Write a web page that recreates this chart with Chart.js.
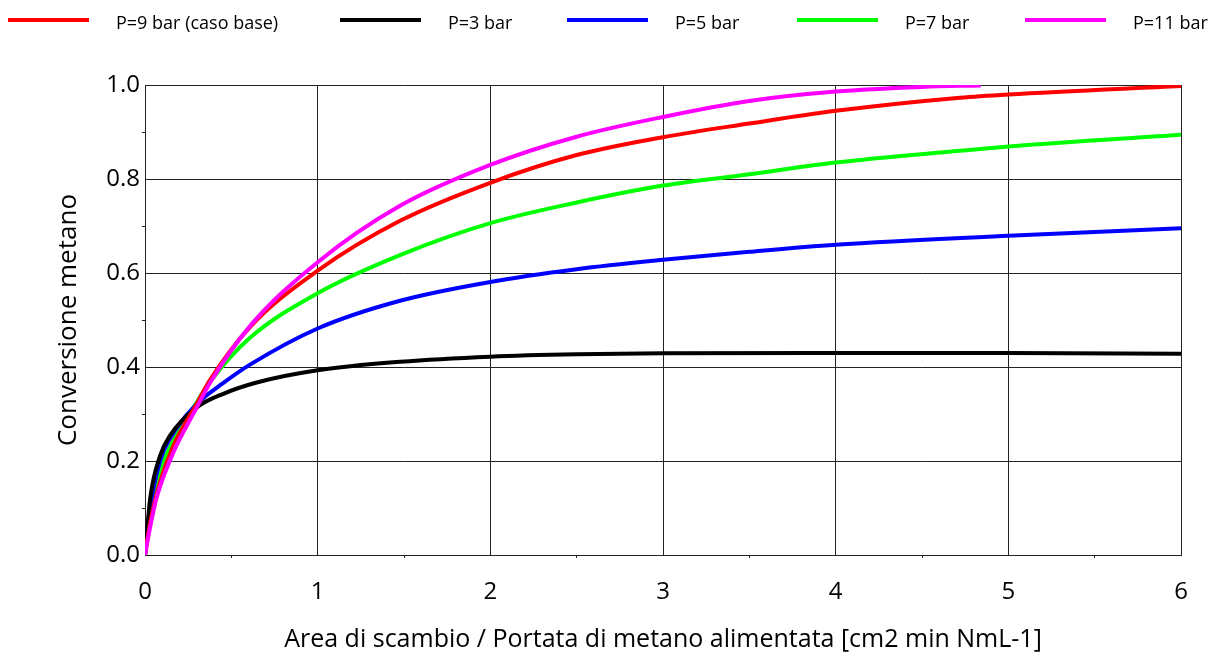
<!DOCTYPE html>
<html>
<head>
<meta charset="utf-8">
<script src="https://cdn.jsdelivr.net/npm/chart.js@4/dist/chart.umd.min.js"></script>
<style>
  html, body { margin: 0; padding: 0; background: #fff; }
  #wrap { width: 1210px; height: 657px; }
</style>
</head>
<body>
<div id="wrap"><canvas id="chart" width="1210" height="657"></canvas></div>
<script>
// Series (x = area / feed flow, y = methane conversion)
const seriesLabels = ['P=9 bar (caso base)', 'P=3 bar', 'P=5 bar', 'P=7 bar', 'P=11 bar'];
const seriesColors = ['#ff0000', '#000000', '#0000ff', '#00ff00', '#ff00ff'];

const xP9 = [0, 0.03, 0.087, 0.164, 0.3, 0.376, 0.608, 1.0, 1.477, 2.0, 2.5, 3.0, 3.5, 4.0, 4.72, 5.0, 6.0];
const yP9 = [0, 0.07, 0.155, 0.232, 0.322, 0.372, 0.485, 0.605, 0.711, 0.792, 0.851, 0.889, 0.918, 0.945, 0.973, 0.98, 0.998];

const xP3 = [0, 0.03, 0.087, 0.145, 0.3, 0.454, 0.647, 1.0, 1.477, 2.0, 2.5, 3.0, 4.0, 5.0, 6.0];
const yP3 = [0, 0.12, 0.211, 0.254, 0.314, 0.343, 0.367, 0.393, 0.411, 0.422, 0.427, 0.429, 0.430, 0.430, 0.428];

const xP5 = [0, 0.03, 0.087, 0.145, 0.3, 0.45, 0.608, 1.0, 1.477, 2.0, 2.5, 3.0, 3.5, 4.0, 5.0, 6.0];
const yP5 = [0, 0.1, 0.2, 0.248, 0.321, 0.365, 0.405, 0.482, 0.541, 0.581, 0.608, 0.628, 0.645, 0.66, 0.679, 0.695];

const xP7 = [0, 0.03, 0.087, 0.16, 0.3, 0.376, 0.608, 1.0, 1.477, 2.0, 2.5, 3.0, 3.5, 4.0, 4.72, 5.0, 6.0];
const yP7 = [0, 0.09, 0.18, 0.24, 0.325, 0.368, 0.462, 0.557, 0.638, 0.706, 0.750, 0.786, 0.81, 0.835, 0.86, 0.869, 0.894];

const xP11 = [0, 0.03, 0.068, 0.164, 0.3, 0.376, 0.608, 1.0, 1.477, 2.0, 2.5, 3.0, 3.5, 4.0, 4.5, 4.84];
const yP11 = [0, 0.06, 0.123, 0.218, 0.314, 0.366, 0.487, 0.623, 0.743, 0.830, 0.890, 0.932, 0.966, 0.986, 0.996, 0.999];

const xTickLabels = ['0', '1', '2', '3', '4', '5', '6'];
const yTickLabels = ['0.0', '0.2', '0.4', '0.6', '0.8', '1.0'];

const xTitle = 'Area di scambio / Portata di metano alimentata [cm2 min NmL-1]';
const yTitle = 'Conversione metano';

const FONT = "'Open Sans', sans-serif";

// left edge of each legend entry
const legendStarts = [8, 340, 567, 797, 1025];

function toPoints(xs, ys) {
    return xs.map((x, i) => ({ x: x, y: ys[i] }));
}

const allX = [xP9, xP3, xP5, xP7, xP11];
const allY = [yP9, yP3, yP5, yP7, yP11];

const datasets = seriesLabels.map((label, i) => ({
    label: label,
    data: toPoints(allX[i], allY[i]),
    borderColor: seriesColors[i],
    backgroundColor: seriesColors[i],
    borderWidth: 4,
    pointRadius: 0,
    fill: false,
    cubicInterpolationMode: 'monotone',
    order: i === 4 ? -1 : i
}));

const isMajor = (v, step) => Math.abs(v / step - Math.round(v / step)) < 1e-6;

// legend across the top: line sample, then label
const topLegend = {
    id: 'topLegend',
    afterDraw(chart) {
        const ctx = chart.ctx;
        ctx.save();
        ctx.font = '18px ' + FONT;
        ctx.textBaseline = 'middle';
        ctx.textAlign = 'left';
        seriesLabels.forEach((label, i) => {
            const x = legendStarts[i];
            ctx.strokeStyle = seriesColors[i];
            ctx.lineWidth = 4;
            ctx.beginPath();
            ctx.moveTo(x, 20);
            ctx.lineTo(x + 81, 20);
            ctx.stroke();
            ctx.fillStyle = '#000';
            ctx.fillText(label, x + 108, 24);
        });
        ctx.restore();
    }
};

new Chart(document.getElementById('chart'), {
    type: 'line',
    data: { datasets: datasets },
    options: {
        responsive: false,
        animation: false,
        devicePixelRatio: 1,
        layout: { padding: { top: 85, right: 29, left: 0, bottom: 0 } },
        plugins: {
            legend: { display: false },
            tooltip: { enabled: false }
        },
        scales: {
            x: {
                type: 'linear',
                min: 0,
                max: 6,
                afterFit: (scale) => { scale.height = 102; },
                ticks: {
                    stepSize: 0.5,
                    autoSkip: false,
                    maxRotation: 0,
                    padding: 20,
                    color: '#000',
                    font: { family: FONT, size: 24 },
                    callback: (v) => isMajor(v, 1) ? xTickLabels[Math.round(v)] : ''
                },
                grid: {
                    color: (c) => isMajor(c.tick.value, 1) ? '#222' : 'rgba(0,0,0,0)',
                    tickColor: (c) => isMajor(c.tick.value, 1) ? 'rgba(0,0,0,0)' : '#222',
                    tickLength: 3,
                    lineWidth: 1
                },
                border: { color: '#222', width: 1 },
                title: {
                    display: true,
                    text: xTitle,
                    color: '#000',
                    font: { family: FONT, size: 25 },
                    padding: { top: 0, bottom: 2 }
                }
            },
            y: {
                type: 'linear',
                min: 0,
                max: 1,
                afterFit: (scale) => { scale.width = 145; },
                ticks: {
                    stepSize: 0.1,
                    autoSkip: false,
                    padding: 2,
                    color: '#000',
                    font: { family: FONT, size: 24 },
                    callback: (v) => isMajor(v, 0.2) ? yTickLabels[Math.round(v * 5)] : ''
                },
                grid: {
                    color: (c) => isMajor(c.tick.value, 0.2) ? '#222' : 'rgba(0,0,0,0)',
                    tickColor: (c) => isMajor(c.tick.value, 0.2) ? 'rgba(0,0,0,0)' : '#222',
                    tickLength: 3,
                    lineWidth: 1
                },
                border: { color: '#222', width: 1 },
                title: {
                    display: true,
                    text: yTitle,
                    color: '#000',
                    font: { family: FONT, size: 26 },
                    padding: { top: 53, bottom: 0 }
                }
            }
        }
    },
    plugins: [topLegend]
});
</script>
</body>
</html>
